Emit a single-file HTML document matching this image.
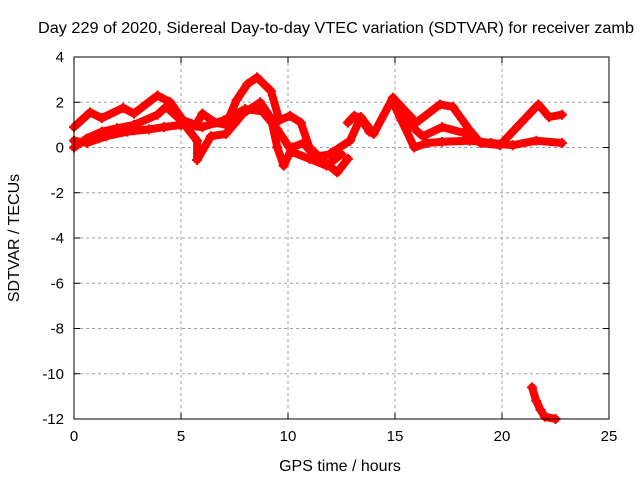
<!DOCTYPE html>
<html><head><meta charset="utf-8"><style>
html,body{margin:0;padding:0;background:#fff;}
svg{display:block;font-family:"Liberation Sans",sans-serif;}
</style></head><body>
<svg id="chart" width="640" height="480">
<text x="336" y="33" font-size="16" text-anchor="middle" textLength="596" lengthAdjust="spacingAndGlyphs">Day 229 of 2020, Sidereal Day-to-day VTEC variation (SDTVAR) for receiver zamb</text>
<text x="340" y="471" font-size="16" text-anchor="middle">GPS time / hours</text>
<text transform="translate(19,238) rotate(-90)" font-size="16" text-anchor="middle">SDTVAR / TECUs</text>
<g id="grid"></g><g id="ticks"></g><g id="series"></g>
<rect x="74" y="57" width="535" height="362" fill="none" stroke="#000" stroke-width="1"/>
</svg>
<script>
const xTicks=[0,5,10,15,20,25];
const yTicks=[4,2,0,-2,-4,-6,-8,-10,-12];
const trackAx=[0,0.75,1.3,2.3,2.8,3.9,4.5,5.1,5.7,6.0,6.6,7.1,7.6,8.1,8.55,9.2,9.6,10.1,10.6,11.0,11.6,12.3,12.8];
const trackAy=[0.9,1.55,1.3,1.75,1.5,2.3,2.0,1.2,1.0,1.5,1.1,1.0,2.1,2.8,3.1,2.5,1.2,1.4,1.1,0,-0.55,-1.1,-0.5];
const trackBx=[0,0.6,1.3,2.0,2.8,3.9,4.3,5.0,5.75,5.75,6.4,7.1,7.9,8.7,9.2,9.5,9.8,10.2,10.7,11.3,12.0];
const trackBy=[0.0,0.4,0.7,0.85,1.0,1.45,1.8,1.2,0.3,-0.55,0.5,0.6,1.5,2.0,1.3,0,-0.8,0,0.2,-0.4,-0.3];
const trackCx=[0,0.6,1.5,2.5,3.5,4.2,5.0,6.0,7.0,8.0,8.8,9.5,10.2,11.0,11.8,12.5];
const trackCy=[0.3,0.2,0.5,0.7,0.8,0.9,1.0,0.9,1.2,1.7,1.6,0.8,-0.2,-0.5,-0.8,-0.3];
const trackDx=[12.0,12.9,13.4,14.0,14.9,15.6,16.0,17.1,17.7,18.5,19.0,19.9,20.7,21.7,22.2,22.8];
const trackDy=[-0.25,0.3,1.35,0.6,2.2,1.5,1.1,1.9,1.8,0.75,0.2,0.1,0.9,1.9,1.35,1.45];
const trackEx=[14.9,15.3,15.9,16.5,17.2,18.5,19.5,20.5,21.6,22.8];
const trackEy=[2.0,1.2,0.0,0.2,0.25,0.3,0.2,0.1,0.3,0.2];
const trackFx=[21.4,21.6,21.8,22.0,22.5];
const trackFy=[-10.6,-11.2,-11.6,-11.9,-12.0];
const trackGx=[15.2,15.7,16.3,17.2,18.2,19.0];
const trackGy=[1.9,1.0,0.5,0.9,0.65,0.2];
const trackHx=[12.8,13.1,13.4,13.8];
const trackHy=[1.1,1.4,1.3,0.7];
const L=74,R=609,T=57,B=419;
const xs=h=>L+(h-0)/(25-0)*(R-L);
const ys=v=>T+(4-v)/(4-(-12))*(B-T);
const NS="http://www.w3.org/2000/svg";
const grid=document.getElementById('grid'),ticks=document.getElementById('ticks'),ser=document.getElementById('series');
function mk(t,a,p){const e=document.createElementNS(NS,t);for(const k in a)e.setAttribute(k,a[k]);p.appendChild(e);return e;}
xTicks.forEach(t=>{const x=xs(t);
 if(t>0&&t<25){const g=mk('line',{x1:x,x2:x,y1:T,y2:B,stroke:'#a0a0a0','stroke-dasharray':'3,3'},grid);
 
 }
 mk('line',{x1:x,x2:x,y1:B,y2:B-6,stroke:'#000'},ticks);mk('line',{x1:x,x2:x,y1:T,y2:T+6,stroke:'#000'},ticks);
 const tx=mk('text',{x:x,y:B+22,'font-size':15,'text-anchor':'middle'},ticks);tx.textContent=t;
 
 });
yTicks.forEach(t=>{const y=ys(t);
 if(t>-12&&t<4){const g=mk('line',{x1:L,x2:R,y1:y,y2:y,stroke:'#a0a0a0','stroke-dasharray':'3,3'},grid);
 
 }
 mk('line',{x1:L,x2:L+6,y1:y,y2:y,stroke:'#000'},ticks);mk('line',{x1:R,x2:R-6,y1:y,y2:y,stroke:'#000'},ticks);
 const tx=mk('text',{x:L-10,y:y+5,'font-size':15,'text-anchor':'end'},ticks);tx.textContent=t;
 
 });
[[trackAx,trackAy],[trackBx,trackBy],[trackCx,trackCy],[trackDx,trackDy],[trackEx,trackEy],[trackFx,trackFy],[trackGx,trackGy],[trackHx,trackHy]].forEach((tr,i)=>{
 const pts=tr[0].map((h,j)=>xs(h).toFixed(1)+','+ys(tr[1][j]).toFixed(1)).join(' ');
 const p=mk('polyline',{points:pts,fill:'none',stroke:'#ff0000','stroke-width':8,'stroke-linejoin':'round','stroke-linecap':'round'},ser);
 
 
 tr[0].forEach((h,j)=>{const x=xs(h),y=ys(tr[1][j]);
  const m=mk('path',{d:`M${x-5},${y}h10M${x},${y-5}v10`,stroke:'#ff0000','stroke-width':2},ser);
  
  });
});
</script>
</body></html>
